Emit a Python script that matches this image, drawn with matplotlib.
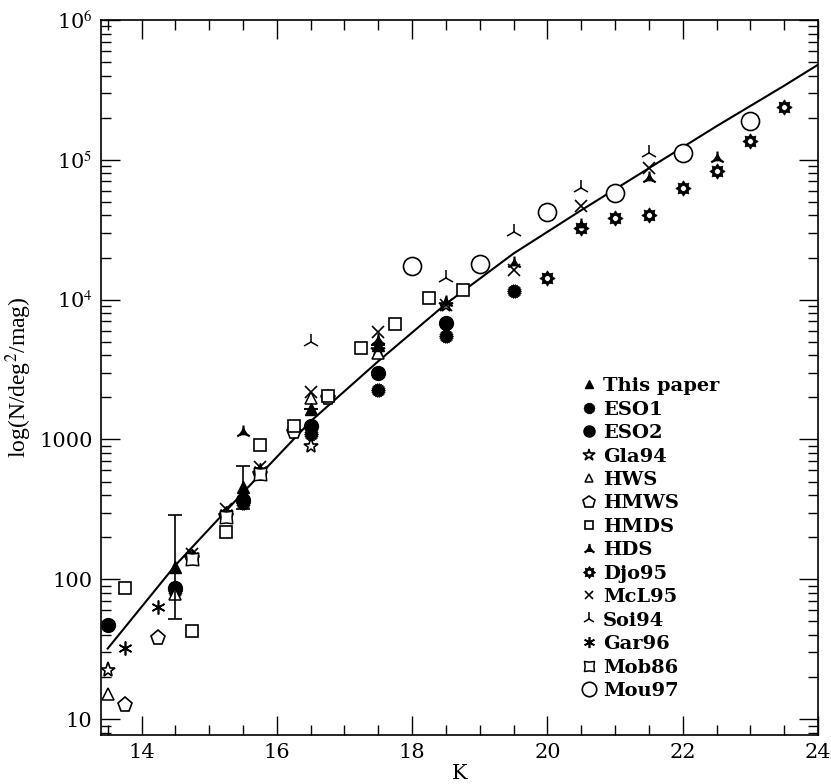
import numpy as np
import matplotlib
matplotlib.use("Agg")
import matplotlib.pyplot as plt
from matplotlib.path import Path
from matplotlib.lines import Line2D
from matplotlib.ticker import FixedLocator, FuncFormatter, MultipleLocator, LogLocator, NullFormatter

# ---- K-band number counts (N / deg^2 / mag) ----
this_K = [14.5, 15.5, 16.5, 17.5]
this_N = [122, 454, 1640, 4770]
this_lo = [52, 316, None, None]
this_hi = [286, 641, None, None]

eso1_K = [14.5, 15.5, 16.5, 17.5, 18.5, 19.5]
eso1_N = [82, 349, 1086, 2275, 5530, 11600]

eso2_K = [13.5, 14.5, 15.5, 16.5, 17.5, 18.5]
eso2_N = [47, 86, 367, 1240, 3010, 6850]

gla_K = [13.5, 14.75, 16.5, 17.5, 18.5]
gla_N = [22.4, 139, 891, 4390, 9210]

hws_K = [13.5, 14.5, 16.5, 17.5]
hws_N = [15.1, 79, 1995, 4170]

hmws_K = [13.75, 14.25, 14.75, 15.25, 15.75, 16.25, 16.75]
hmws_N = [12.6, 38, 141, 282, 562, 1140, 1995]

hmds_K = [13.75, 14.75, 15.25, 15.75, 16.25, 16.75, 17.25, 17.75, 18.25, 18.75]
hmds_N = [86, 43, 217, 906, 1240, 2060, 4540, 6740, 10300, 11800]

hds_K = [15.5, 17.5, 18.5, 19.5, 20.5, 21.5, 22.5]
hds_N = [1122, 5180, 9680, 18400, 34300, 74400, 103000]

djo_K = [20.0, 20.5, 21.0, 21.5, 22.0, 22.5, 23.0, 23.5]
djo_N = [14400, 32700, 38500, 40500, 63100, 83500, 137000, 239000]

mcl_K = [14.75, 15.25, 15.75, 16.5, 17.5, 18.5, 19.5, 20.5, 21.5]
mcl_N = [151, 316, 631, 2170, 5900, 9200, 16400, 46900, 87700]

soi_K = [16.5, 18.5, 19.5, 20.5, 21.5]
soi_N = [5010, 14400, 30600, 63100, 112000]

gar_K = [13.75, 14.25, 14.75, 15.25, 15.75]
gar_N = [32, 63, 146, 296, 601]

mob_K = [14.75, 15.25, 15.75]
mob_N = [140, 280, 570]

mou_K = [18.0, 19.0, 20.0, 21.0, 22.0, 23.0]
mou_N = [17500, 18100, 42500, 58000, 112000, 190000]

# model prediction
model_K = [13.5, 14.5, 15.5, 16.5, 17.5, 18.5, 19.5, 20.5, 21.5, 22.5, 23.5, 24.0]
model_N = [32, 126, 417, 1350, 3630, 9330, 21400, 43600, 87100, 174000, 339000, 479000]

ytick_vals = [10, 100, 1000, 1e4, 1e5, 1e6]
ytick_text = ["10", "100", "1000", r"10$^4$", r"10$^5$", r"10$^6$"]
xtick_vals = [14, 16, 18, 20, 22, 24]


# ---- custom marker shapes ----
def serrated_disc(n=22, inner=0.86):
    ang = np.linspace(0, 2 * np.pi, 2 * n, endpoint=False)
    r = np.where(np.arange(2 * n) % 2 == 0, 1.0, inner)
    verts = np.column_stack([r * np.cos(ang), r * np.sin(ang)])
    verts = np.vstack([verts, verts[:1]])
    codes = [Path.MOVETO] + [Path.LINETO] * (2 * n - 1) + [Path.CLOSEPOLY]
    return Path(verts, codes)


def star_with_hole(n=8, inner=0.68, hole=0.38):
    ang = np.linspace(0, 2 * np.pi, 2 * n, endpoint=False) + np.pi / 2
    r = np.where(np.arange(2 * n) % 2 == 0, 1.0, inner)
    outer = np.column_stack([r * np.cos(ang), r * np.sin(ang)])
    outer = np.vstack([outer, outer[:1]])
    ca = np.linspace(0, -2 * np.pi, 25)
    circ = np.column_stack([hole * np.cos(ca), hole * np.sin(ca)])
    circ[-1] = circ[0]
    verts = np.vstack([outer, circ])
    codes = ([Path.MOVETO] + [Path.LINETO] * (len(outer) - 2) + [Path.CLOSEPOLY]
             + [Path.MOVETO] + [Path.LINETO] * (len(circ) - 2) + [Path.CLOSEPOLY])
    return Path(verts, codes)


def hds_shape():
    verts = [(0, 0.45), (-0.42, -0.25), (0.42, -0.25), (0, 0.45),
             (0, 0), (0, 1.0),
             (0, 0), (-0.9, -0.55),
             (0, 0), (0.9, -0.55)]
    codes = [Path.MOVETO, Path.LINETO, Path.LINETO, Path.CLOSEPOLY,
             Path.MOVETO, Path.LINETO,
             Path.MOVETO, Path.LINETO,
             Path.MOVETO, Path.LINETO]
    return Path(verts, codes)


def mob_shape():
    # square with concave sides and pointed corners
    pts = []
    for k in range(4):
        a = np.pi / 4 + k * np.pi / 2
        pts.append((np.cos(a), np.sin(a)))
        a2 = a + np.pi / 4
        pts.append((0.62 * np.cos(a2), 0.62 * np.sin(a2)))
    pts.append(pts[0])
    codes = [Path.MOVETO] + [Path.LINETO] * 7 + [Path.CLOSEPOLY]
    return Path(pts, codes)


plt.rcParams["font.family"] = ["DejaVu Serif"]
plt.rcParams["mathtext.fontset"] = "stix"

fig = plt.figure(figsize=(8.31, 7.84), dpi=100)
ax = fig.add_axes([0.1215, 0.0625, 0.8629, 0.912])

ax.plot(model_K, model_N, color="black", lw=1.5, zorder=2)

common = dict(ls="none", color="black", zorder=3)
ax.errorbar(this_K, this_N,
            yerr=[[n - l if l else 0 for n, l in zip(this_N, this_lo)],
                  [h - n if h else 0 for n, h in zip(this_N, this_hi)]],
            fmt="^", ms=8, mfc="black", mec="black", ecolor="black",
            elinewidth=1.2, capsize=5, capthick=1.2, zorder=4)
h_this = Line2D([], [], marker="^", ms=8, mfc="black", mec="black", ls="none",
                label="This paper")
handles = [h_this]
handles += ax.plot(eso1_K, eso1_N, marker=serrated_disc(), ms=10, mfc="black", mec="black",
                   mew=0.5, label="ESO1", **common)
handles += ax.plot(eso2_K, eso2_N, marker="o", ms=10, mfc="black", mec="black",
                   label="ESO2", **common)
handles += ax.plot(gla_K, gla_N, marker="*", ms=11, mfc="white", mec="black", mew=1.2,
                   label="Gla94", **common)
handles += ax.plot(hws_K, hws_N, marker="^", ms=8, mfc="white", mec="black", mew=1.1,
                   label="HWS", **common)
handles += ax.plot(hmws_K, hmws_N, marker="p", ms=11, mfc="white", mec="black", mew=1.2,
                   label="HMWS", **common)
handles += ax.plot(hmds_K, hmds_N, marker="s", ms=8, mfc="white", mec="black", mew=1.2,
                   label="HMDS", **common)
handles += ax.plot(hds_K, hds_N, marker=hds_shape(), ms=10, mfc="black", mec="black",
                   mew=1.6, label="HDS", **common)
handles += ax.plot(djo_K, djo_N, marker=star_with_hole(), ms=11, mfc="black", mec="black",
                   mew=0.5, label="Djo95", **common)
handles += ax.plot(mcl_K, mcl_N, marker="x", ms=8, mec="black", mew=1.2,
                   label="McL95", **common)
handles += ax.plot(soi_K, soi_N, marker="2", ms=12, mec="black", mew=1.1,
                   label="Soi94", **common)
handles += ax.plot(gar_K, gar_N, marker=(6, 2, 0), ms=10, mec="black", mew=1.2,
                   label="Gar96", **common)
handles += ax.plot(mob_K, mob_N, marker=mob_shape(), ms=9, mfc="white", mec="black",
                   mew=1.1, label="Mob86", **common)
handles += ax.plot(mou_K, mou_N, marker="o", ms=13, mfc="white", mec="black", mew=1.2,
                   label="Mou97", **common)

ax.set_yscale("log")
ax.set_xlim(13.4, 24.0)
ax.set_ylim(7.7, 1e6)

ax.xaxis.set_major_locator(FixedLocator(xtick_vals))
ax.xaxis.set_minor_locator(MultipleLocator(0.5))
ax.yaxis.set_major_locator(FixedLocator(ytick_vals))
ax.yaxis.set_major_formatter(FuncFormatter(
    lambda v, p: ytick_text[ytick_vals.index(v)] if v in ytick_vals else ""))
ax.yaxis.set_minor_locator(LogLocator(base=10, subs=np.arange(2, 10), numticks=20))
ax.yaxis.set_minor_formatter(NullFormatter())

ax.tick_params(which="both", direction="in", top=True, right=True,
               labelsize=15, width=1.0, colors="black")
ax.tick_params(which="major", length=14, pad=6)
ax.tick_params(which="minor", length=7)
for s in ax.spines.values():
    s.set_linewidth(1.2)

ax.set_xlabel("K", fontsize=15, labelpad=1)
ax.set_ylabel(r"log(N/deg$^2$/mag)", fontsize=17, family="Liberation Serif", labelpad=4)

leg = ax.legend(handles=handles, loc="upper left", bbox_to_anchor=(0.658, 0.514),
                frameon=False, fontsize=14, handlelength=0.7, handletextpad=0.35,
                labelspacing=0.28, borderpad=0, markerscale=0.8)
for t in leg.get_texts():
    t.set_fontweight("bold")

fig.savefig("out.png", dpi=100)
